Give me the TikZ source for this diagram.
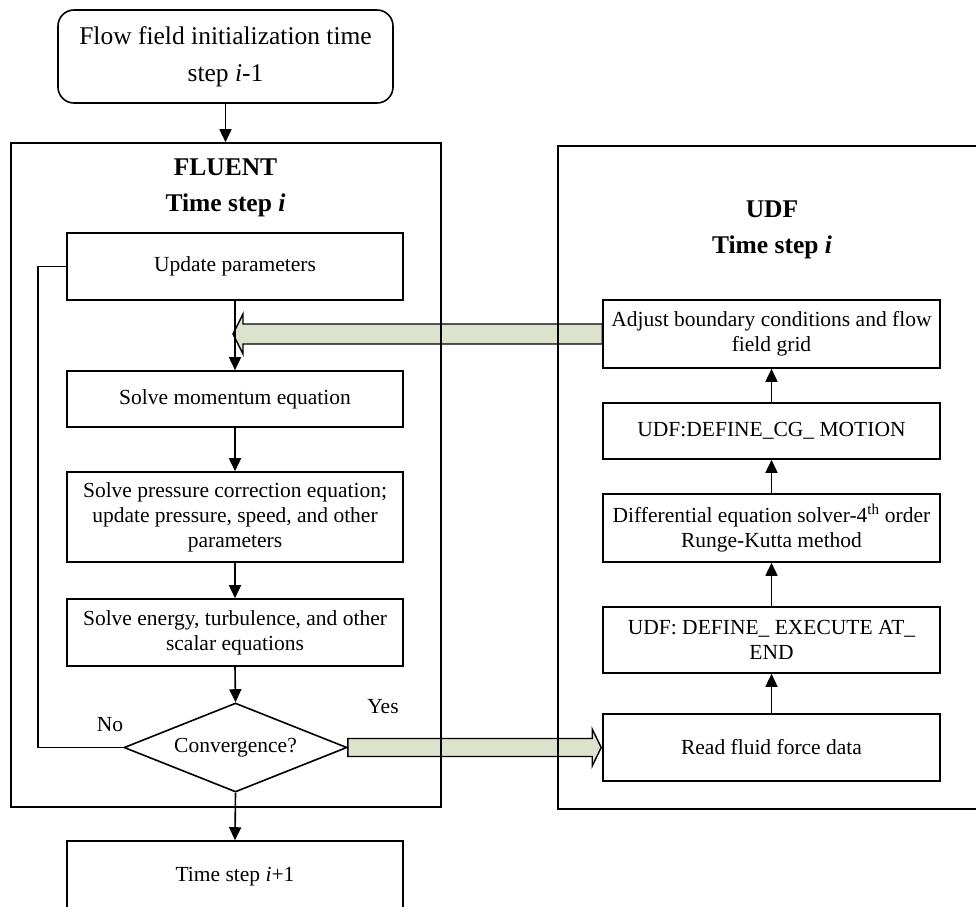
\documentclass[tikz,border=0pt]{standalone}
\usepackage{fontspec}
\setmainfont{Liberation Serif}
\usetikzlibrary{arrows.meta,shapes.geometric,calc,backgrounds}
\definecolor{gfill}{RGB}{221,226,204}
\begin{document}
\begin{tikzpicture}[x=1pt,y=-1pt,line width=1.6pt,
  font=\fontsize{21.5}{25}\selectfont,
  lbox/.style={draw,rectangle,minimum width=336pt,align=center,inner sep=0pt},
  rbox/.style={draw,rectangle,minimum width=337pt,align=center,inner sep=0pt},
  frame/.style={draw,rectangle,inner sep=0pt},
  titletext/.style={align=center,font=\bfseries\fontsize{25.5}{36}\selectfont},
  arr/.style={-{Triangle[length=13pt,width=12pt]}},
  garrow/.style={fill=gfill,draw=black,line width=1.4pt,line join=miter}]
\useasboundingbox (0,0) rectangle (976,906);
\clip (0,0) rectangle (976,906);

% top node
\node[draw,rounded corners=16pt,minimum width=335pt,minimum height=93pt,align=center,
  font=\fontsize{25.5}{37}\selectfont] (init) at (225.5,56.5)
  {Flow field initialization time\\step \textit{i}-1};

% frames
\node[frame,minimum width=430pt,minimum height=664pt] (fluentbox) at (226,475) {};
\node[frame,minimum width=427pt,minimum height=663pt] (udfbox) at (771.5,477.5) {};

\node[titletext] (ftitle) at (225.5,188) {FLUENT\\Time step \textit{i}};
\node[titletext] (utitle) at (772,230) {UDF\\Time step \textit{i}};

% FLUENT column
\node[lbox,minimum height=67pt] (upd) at (235,266.5) {Update parameters};
\node[lbox,minimum height=56pt] (mom) at (235,399) {Solve momentum equation};
\node[lbox,minimum height=90pt] (pres) at (235,517)
  {Solve pressure correction equation;\\update pressure, speed, and other\\parameters};
\node[lbox,minimum height=67pt] (ener) at (235,632.5)
  {Solve energy, turbulence, and other\\scalar equations};
\node[draw,diamond,aspect=2.5,minimum width=223pt,minimum height=89pt,inner sep=0pt]
  (conv) at (235.5,747.5) {Convergence?};
\node[lbox,minimum height=72pt] (next) at (235,877) {Time step \textit{i}+1};

\node (no) at (110,725) {No};
\node (yes) at (383,707) {Yes};

% UDF column
\node[rbox,minimum height=68pt] (adj) at (771.5,334)
  {Adjust boundary conditions and flow\\field grid};
\node[rbox,minimum height=56pt] (cg) at (771.5,431) {UDF:DEFINE\_CG\_ MOTION};
\node[rbox,minimum height=68pt] (diff) at (771.5,528)
  {Differential equation solver-4\textsuperscript{th} order\\Runge-Kutta method};
\node[rbox,minimum height=66pt] (exe) at (771.5,640) {UDF: DEFINE\_ EXECUTE AT\_\\END};
\node[rbox,minimum height=67pt] (read) at (771.5,747.5) {Read fluid force data};

% green arrows (behind frames)
\begin{scope}[on background layer]
  \coordinate (g1s) at (adj.west);
  \coordinate (g1t) at ($(upd.south |- adj.west)+(-2,0)$);
  \draw[garrow] ($(g1s)+(0,-10)$) -- ($(g1t)+(10,-10)$) -- ($(g1t)+(10,-20)$) -- (g1t)
     -- ($(g1t)+(10,20)$) -- ($(g1t)+(10,10)$) -- ($(g1s)+(0,10)$) -- cycle;
  \coordinate (g2s) at (conv.east);
  \coordinate (g2t) at ($(read.west)+(-1,0)$);
  \draw[garrow] ($(g2s)+(0,-9)$) -- ($(g2t)+(-9,-9)$) -- ($(g2t)+(-9,-18.5)$) -- (g2t)
     -- ($(g2t)+(-9,18.5)$) -- ($(g2t)+(-9,9)$) -- ($(g2s)+(0,9)$) -- cycle;
\end{scope}

% connectors
\draw[arr] (init.south) -- (init.south |- fluentbox.north);
\draw[arr] (upd.south) -- (mom.north);
\draw[arr] (mom.south) -- (pres.north);
\draw[arr] (pres.south) -- (ener.north);
\draw[arr] (ener.south) -- (conv.north);
\draw[arr] (conv.south) -- (next.north);
\draw (conv.west) -- ++(-85,0) |- (upd.west);

\draw[arr] (read.north) -- (exe.south);
\draw[arr] (exe.north) -- (diff.south);
\draw[arr] (diff.north) -- (cg.south);
\draw[arr] (cg.north) -- (adj.south);
\end{tikzpicture}
\end{document}
